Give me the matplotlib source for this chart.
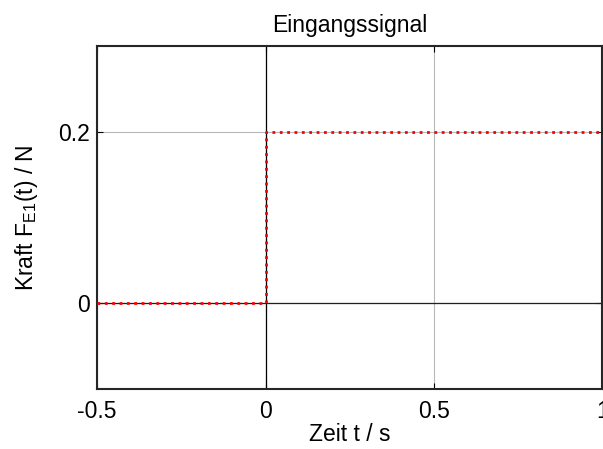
import numpy as np
import matplotlib
matplotlib.use("Agg")
import matplotlib.pyplot as plt

# input signal: step of 0.2 N at t = 0
t = [-0.5, 0.0, 0.0, 1.0]
force = [0.0, 0.0, 0.2, 0.2]

x_ticks = [-0.5, 0, 0.5, 1]
x_labels = ["-0.5", "0", "0.5", "1"]
y_ticks = [0, 0.2]
y_labels = ["0", "0.2"]

plt.rcParams["font.family"] = ["Liberation Sans", "DejaVu Sans"]
plt.rcParams["mathtext.fontset"] = "custom"
plt.rcParams["mathtext.rm"] = "Liberation Sans"

fig = plt.figure(figsize=(6.03, 4.49), dpi=100)
ax = fig.add_axes([0.161, 0.134, 0.838, 0.764])

ax.grid(True, color="#b8b8b8", linewidth=0.8, zorder=1)
ax.set_axisbelow(True)
ax.axhline(0, color="#202020", linewidth=0.9, zorder=2)
ax.axvline(0, color="black", linewidth=0.9, zorder=2)
ax.plot(t, force, color="red", linestyle=":", linewidth=2.0, zorder=3)

ax.set_xlim(-0.5, 1)
ax.set_ylim(-0.1, 0.3)
ax.set_xticks(x_ticks)
ax.set_xticklabels(x_labels)
ax.set_yticks(y_ticks)
ax.set_yticklabels(y_labels)
ax.tick_params(direction="in", length=4, width=0.8, labelsize=16.5,
               top=True, right=True)
ax.tick_params(axis="x", pad=8)
ax.tick_params(axis="y", pad=5)
for s in ax.spines.values():
    s.set_linewidth(1.5)
    s.set_color("#262626")

ax.set_title("Eingangssignal", fontsize=16.5, pad=10)
ax.set_xlabel("Zeit t / s", fontsize=16.5, labelpad=0)
ax.set_ylabel(r"Kraft F$_{\mathregular{E1}}$(t) / N", fontsize=16.5, labelpad=13)

fig.savefig("out.png", dpi=100)
